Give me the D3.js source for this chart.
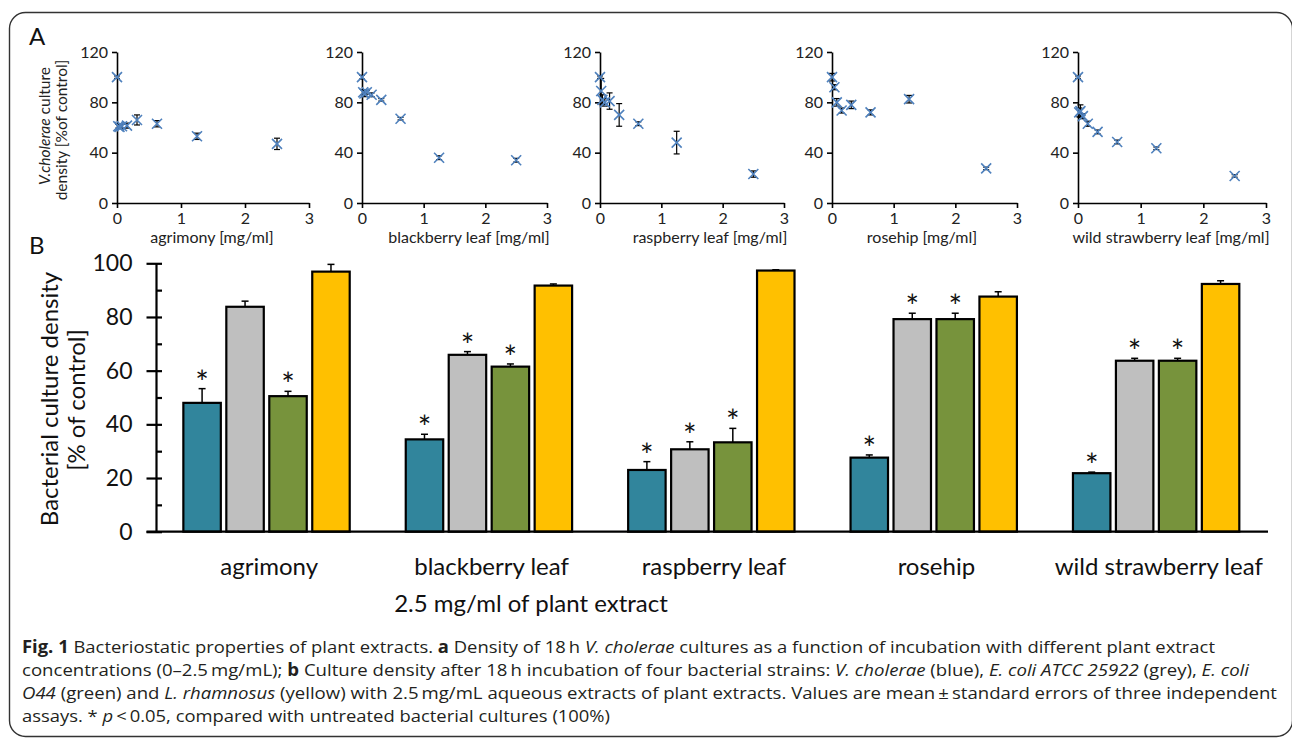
<!DOCTYPE html>
<html><head><meta charset="utf-8">
<script src="https://cdn.jsdelivr.net/npm/d3@7"></script>
<style>
body{margin:0;background:#fff}
svg{display:block}
text{font-family:Lato, "Open Sans", sans-serif}
</style>
</head><body>
<svg id="c" width="1292" height="739"></svg>
<script>
// ---------------- DATA ----------------
// Panel A: V. cholerae density vs extract concentration
const scatterNames = ["agrimony", "blackberry leaf", "raspberry leaf", "rosehip", "wild strawberry leaf"];
const concFull = [0, 0.0195, 0.039, 0.078, 0.156, 0.3125, 0.625, 1.25, 2.5];
const concRosehip = [0, 0.039, 0.078, 0.156, 0.3125, 0.625, 1.25, 2.5];

const agrimonyVal = [100, 61, 60.5, 61, 61.5, 66, 63, 53, 47];
const agrimonyErr = [1, 1.5, 1.5, 1.5, 2, 4, 2.5, 2.5, 4.5];
const blackberryVal = [100, 88, 87, 88, 86, 82, 67, 36, 34];
const blackberryErr = [1.5, 2, 2.5, 1.5, 1.5, 1, 1, 1.5, 1.5];
const raspberryVal = [100, 89, 82, 80, 81, 70, 63, 48, 23];
const raspberryErr = [1, 10, 4, 3, 6.5, 9, 1.5, 9, 2.5];
const rosehipVal = [100, 92, 80, 73.5, 78, 72, 82.5, 27.5];
const rosehipErr = [3, 2, 3, 2, 3, 2, 3, 1];
const strawberryVal = [100, 72, 73, 69, 63, 56.5, 48.5, 43.5, 21.5];
const strawberryErr = [1, 3.5, 5, 2, 2, 1.5, 1.5, 1, 1];

const scatterX = [concFull, concFull, concFull, concRosehip, concFull];
const scatterY = [agrimonyVal, blackberryVal, raspberryVal, rosehipVal, strawberryVal];
const scatterE = [agrimonyErr, blackberryErr, raspberryErr, rosehipErr, strawberryErr];
const scatterYTicks = [0, 40, 80, 120];
const scatterXTicks = [0, 1, 2, 3];

// Panel B: culture density at 2.5 mg/ml
const categories = ["agrimony", "blackberry leaf", "raspberry leaf", "rosehip", "wild strawberry leaf"];
const strains = ["V. cholerae", "E. coli ATCC 25922", "E. coli O44", "L. rhamnosus"];
const vCholerae = [48, 34.4, 23, 27.6, 21.8];
const vCholeraeErr = [5.3, 1.9, 3.1, 1, 0.4];
const eColiATCC = [83.8, 65.9, 30.7, 79.2, 63.7];
const eColiATCCErr = [2.1, 1.2, 2.8, 2.2, 0.9];
const eColiO44 = [50.5, 61.5, 33.3, 79.2, 63.7];
const eColiO44Err = [1.8, 1, 5.2, 2.2, 0.9];
const lRhamnosus = [96.9, 91.7, 97.3, 87.6, 92.3];
const lRhamnosusErr = [2.7, 0.6, 0.3, 1.8, 1.2];
const sigVCholerae = [1, 1, 1, 1, 1];
const sigATCC = [0, 1, 1, 1, 1];
const sigO44 = [1, 1, 1, 1, 1];
const sigRhamnosus = [0, 0, 0, 0, 0];
const barYTicks = [0, 20, 40, 60, 80, 100];
const barYMinor = [10, 30, 50, 70, 90];

// ---------------- LAYOUT ----------------
const svg = d3.select("#c");
const blue = "#4F81BD";
const strainColors = ["#31859C", "#BFBFBF", "#77933C", "#FFC000"];

// frame
svg.append("rect").attr("x", 9.5).attr("y", 12.5).attr("width", 1283).attr("height", 724)
  .attr("rx", 16).attr("fill", "none").attr("stroke", "#333").attr("stroke-width", 1.4);

// panel letters
svg.append("text").attr("x", 29).attr("y", 45).attr("font-size", 24).attr("fill", "#111").text("A");
svg.append("text").attr("x", 29).attr("y", 254).attr("font-size", 24).attr("fill", "#111").text("B");

// ---------------- PANEL A ----------------
const scatterLayout = [
  {x0: 117, x3: 309, lx: 212},
  {x0: 362, x3: 547, lx: 469},
  {x0: 600, x3: 784, lx: 710},
  {x0: 832, x3: 1017, lx: 922},
  {x0: 1078, x3: 1266, lx: 1171}
];
scatterNames.forEach((name, i) => {
  const L = scatterLayout[i];
  const x = d3.scaleLinear().domain([0, 3]).range([L.x0, L.x3]);
  const y = d3.scaleLinear().domain([0, 120]).range([203, 52]);
  const g = svg.append("g");

  const ax = g.append("g").attr("transform", `translate(0,${y(0)})`)
    .call(d3.axisBottom(x).tickValues(scatterXTicks).tickFormat(d3.format("d")).tickSize(5).tickSizeOuter(0).tickPadding(5));
  const ay = g.append("g").attr("transform", `translate(${x(0)},0)`)
    .call(d3.axisLeft(y).tickValues(scatterYTicks).tickSize(5).tickSizeOuter(0).tickPadding(4));
  [ax, ay].forEach(a => {
    a.select(".domain").attr("stroke", "#000").attr("stroke-width", 1.6);
    a.selectAll(".tick line").attr("stroke", "#000").attr("stroke-width", 1.6);
    a.selectAll(".tick text").attr("font-family", "Lato").attr("font-size", 16).attr("fill", "#222");
  });

  g.append("text").attr("x", L.lx).attr("y", 243).attr("text-anchor", "middle")
    .attr("font-size", 16).attr("fill", "#222").text(name + " [mg/ml]");

  const xs = scatterX[i], ys = scatterY[i], es = scatterE[i];
  const pts = xs.map((c, k) => ({c, v: ys[k], e: es[k]}));
  const eb = g.append("g").attr("stroke", "#000").attr("stroke-width", 1.2);
  pts.forEach(p => {
    const px = x(p.c);
    eb.append("line").attr("x1", px).attr("x2", px).attr("y1", y(p.v - p.e)).attr("y2", y(p.v + p.e));
    eb.append("line").attr("x1", px - 3).attr("x2", px + 3).attr("y1", y(p.v - p.e)).attr("y2", y(p.v - p.e));
    eb.append("line").attr("x1", px - 3).attr("x2", px + 3).attr("y1", y(p.v + p.e)).attr("y2", y(p.v + p.e));
  });
  g.append("g").selectAll("path").data(pts).join("path")
    .attr("transform", p => `translate(${x(p.c)},${y(p.v)})`)
    .attr("d", "M-5,-5L5,5M-5,5L5,-5")
    .attr("stroke", blue).attr("stroke-width", 1.6).attr("fill", "none");
});

// y title of panel A
{
  const t = svg.append("text").attr("transform", "translate(50,126) rotate(-90)")
    .attr("text-anchor", "middle").attr("font-size", 15.5).attr("fill", "#222");
  t.append("tspan").attr("font-style", "italic").text("V.cholerae");
  t.append("tspan").text(" culture");
  svg.append("text").attr("transform", "translate(67,130) rotate(-90)")
    .attr("text-anchor", "middle").attr("font-size", 15.5).attr("fill", "#222").text("density [%of control]");
}

// ---------------- PANEL B ----------------
const yB = d3.scaleLinear().domain([0, 100]).range([531.7, 263.3]);
const xB = d3.scaleBand().domain(categories).range([156, 1268]).padding(0);
const bw = xB.bandwidth();
const xInner = d3.scaleBand().domain(strains).range([0.123 * bw, 0.871 * bw]).paddingInner(0.128).paddingOuter(0);

const seriesVals = [vCholerae, eColiATCC, eColiO44, lRhamnosus];
const seriesErr = [vCholeraeErr, eColiATCCErr, eColiO44Err, lRhamnosusErr];
const seriesSig = [sigVCholerae, sigATCC, sigO44, sigRhamnosus];

const barData = [];
categories.forEach((cat, ci) => {
  strains.forEach((s, si) => {
    barData.push({cat, s, si, v: seriesVals[si][ci], e: seriesErr[si][ci], sig: seriesSig[si][ci]});
  });
});

const gb = svg.append("g");
// bars
gb.selectAll("rect.bar").data(barData).join("rect").attr("class", "bar")
  .attr("x", d => xB(d.cat) + xInner(d.s))
  .attr("width", xInner.bandwidth())
  .attr("y", d => yB(d.v))
  .attr("height", d => yB(0) - yB(d.v))
  .attr("fill", d => strainColors[d.si])
  .attr("stroke", "#000").attr("stroke-width", 2.2);

// error bars (upper)
barData.forEach(d => {
  const cx = xB(d.cat) + xInner(d.s) + xInner.bandwidth() / 2;
  gb.append("line").attr("x1", cx).attr("x2", cx).attr("y1", yB(d.v)).attr("y2", yB(d.v + d.e))
    .attr("stroke", "#000").attr("stroke-width", 1.5);
  gb.append("line").attr("x1", cx - 3.5).attr("x2", cx + 3.5).attr("y1", yB(d.v + d.e)).attr("y2", yB(d.v + d.e))
    .attr("stroke", "#000").attr("stroke-width", 1.5);
});

// significance asterisks
gb.selectAll("text.sig").data(barData.filter(d => d.sig)).join("text").attr("class", "sig")
  .attr("x", d => xB(d.cat) + xInner(d.s) + xInner.bandwidth() / 2)
  .attr("y", d => yB(d.v + d.e) + 5)
  .attr("text-anchor", "middle").attr("font-family", "Lato").attr("font-size", 32)
  .attr("fill", "#111").text("*");

// axes
const axB = gb.append("g").attr("transform", `translate(${xB.range()[0]},0)`)
  .call(d3.axisLeft(yB).tickValues(barYTicks).tickSize(9.5).tickSizeOuter(0).tickPadding(14));
axB.select(".domain").attr("stroke", "#000").attr("stroke-width", 2.2);
axB.selectAll(".tick line").attr("stroke", "#000").attr("stroke-width", 2.2);
axB.selectAll(".tick").append("line").attr("x1", 0).attr("x2", 6).attr("stroke", "#000").attr("stroke-width", 2.2);
axB.selectAll(".tick text").attr("font-family", "Lato").attr("font-size", 23).attr("fill", "#111");
const axMinor = gb.append("g").attr("transform", `translate(${xB.range()[0]},0)`)
  .call(d3.axisRight(yB).tickValues(barYMinor).tickSize(6).tickSizeOuter(0).tickFormat(""));
axMinor.select(".domain").remove();
axMinor.selectAll(".tick line").attr("stroke", "#000").attr("stroke-width", 2.2);

// baseline
gb.append("line").attr("x1", xB.range()[0] - 9.5).attr("x2", xB.range()[1])
  .attr("y1", yB(0)).attr("y2", yB(0)).attr("stroke", "#000").attr("stroke-width", 2.2);

// category labels
gb.selectAll("text.cat").data(categories).join("text").attr("class", "cat")
  .attr("x", d => xB(d) + bw / 2 + 2).attr("y", 575)
  .attr("text-anchor", "middle").attr("font-size", 24).attr("fill", "#111").text(d => d);

// axis titles
gb.append("text").attr("x", 531).attr("y", 612).attr("text-anchor", "middle")
  .attr("font-size", 24).attr("fill", "#111").text("2.5 mg/ml of plant extract");
gb.append("text").attr("transform", "translate(58,399) rotate(-90)").attr("text-anchor", "middle")
  .attr("font-size", 24).attr("fill", "#111").text("Bacterial culture density");
gb.append("text").attr("transform", "translate(85,400) rotate(-90)").attr("text-anchor", "middle")
  .attr("font-size", 24).attr("fill", "#111").text("[% of control]");

// ---------------- CAPTION ----------------
const captionLines = [
  {y: 653, w: 1193, parts: [["b", "Fig. 1"], ["", " Bacteriostatic properties of plant extracts. "], ["b", "a"], ["", " Density of 18\u2009h "], ["i", "V. cholerae"], ["", " cultures as a function of incubation with different plant extract"]]},
  {y: 676, w: 1227, parts: [["", "concentrations (0\u20132.5\u2009mg/mL); "], ["b", "b"], ["", " Culture density after 18\u2009h incubation of four bacterial strains: "], ["i", "V. cholerae"], ["", " (blue), "], ["i", "E. coli ATCC 25922"], ["", " (grey), "], ["i", "E. coli"]]},
  {y: 699, w: 1255, parts: [["i", "O44"], ["", " (green) and "], ["i", "L. rhamnosus"], ["", " (yellow) with 2.5\u2009mg/mL aqueous extracts of plant extracts. Values are mean\u2009\u00b1\u2009standard errors of three independent"]]},
  {y: 722, w: 588, parts: [["", "assays. * "], ["i", "p"], ["", "\u2009<\u20090.05, compared with untreated bacterial cultures (100%)"]]}
];
captionLines.forEach(l => {
  const t = svg.append("text").attr("x", 22).attr("y", l.y)
    .attr("font-family", "Open Sans").attr("font-size", 17).attr("fill", "#231f20")
    .attr("textLength", l.w).attr("lengthAdjust", "spacingAndGlyphs");
  l.parts.forEach(([st, s]) => {
    const ts = t.append("tspan").text(s).attr("font-family", "Open Sans");
    if (st === "b") ts.attr("font-weight", "bold");
    if (st === "i") ts.attr("font-style", "italic");
  });
});
</script>
</body></html>
